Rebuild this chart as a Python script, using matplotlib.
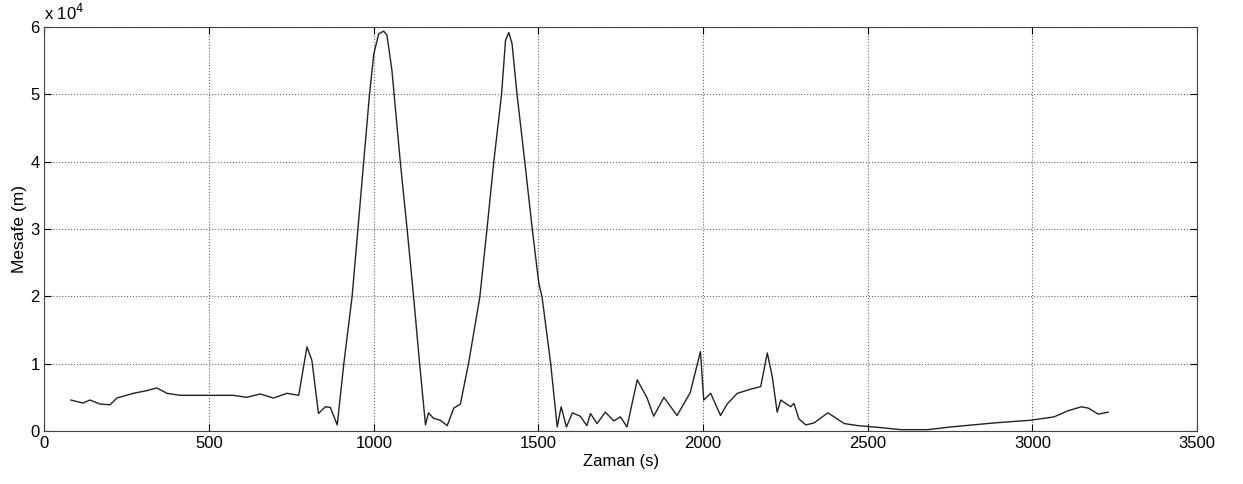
import matplotlib
matplotlib.use("Agg")
import matplotlib.pyplot as plt
from matplotlib.ticker import FuncFormatter

# time (s) and distance (m)
zaman = [80, 117, 138, 169, 199, 220, 270, 311, 341, 372, 412, 574, 614, 655, 695,
         737, 772, 797, 812, 832, 853, 868, 889, 909, 934, 952, 969, 987, 1000,
         1015, 1030, 1040, 1055, 1081, 1101, 1121, 1139, 1157, 1166, 1181, 1202,
         1223, 1243, 1263, 1288, 1322, 1344, 1364, 1388, 1400, 1410, 1420, 1435,
         1459, 1481, 1501, 1511, 1537, 1557, 1569, 1585, 1603, 1627, 1647, 1658,
         1678, 1703, 1729, 1749, 1769, 1800, 1830, 1850, 1881, 1921, 1961, 1992,
         2002, 2023, 2053, 2073, 2104, 2144, 2175, 2195, 2210, 2225, 2236, 2266,
         2276, 2291, 2312, 2337, 2379, 2429, 2470, 2540, 2601, 2682, 2752, 2884,
         2995, 3066, 3108, 3149, 3170, 3200, 3230]
mesafe = [4600, 4150, 4600, 4000, 3900, 4900, 5600, 6000, 6400, 5600, 5300, 5300,
          5000, 5500, 4900, 5600, 5300, 12500, 10500, 2600, 3600, 3500, 900, 10000,
          19900, 30100, 39800, 50000, 56000, 59000, 59400, 58800, 53600, 39700,
          30100, 19900, 10100, 900, 2700, 1900, 1600, 800, 3400, 4000, 10100,
          19900, 30100, 39800, 50000, 58000, 59200, 57500, 50000, 39800, 30100,
          22000, 19900, 10100, 600, 3600, 600, 2700, 2200, 800, 2600, 1100, 2800,
          1500, 2100, 600, 7600, 4900, 2200, 5000, 2300, 5700, 11800, 4600, 5600,
          2300, 4000, 5600, 6200, 6600, 11600, 8100, 2800, 4600, 3600, 4100, 1800,
          900, 1200, 2700, 1100, 800, 500, 200, 200, 600, 1200, 1600, 2100, 3000,
          3600, 3400, 2500, 2800]

plt.rcParams['font.family'] = ['Liberation Sans', 'DejaVu Sans']

fig = plt.figure(figsize=(12.43, 4.84), dpi=100)
ax = fig.add_axes([0.0358, 0.1095, 0.9272, 0.8345])

ax.plot(zaman, mesafe, color='#222222', linewidth=1.0)

ax.set_xlim(0, 3500)
ax.set_ylim(0, 60000)
ax.set_xticks(range(0, 3501, 500))
ax.set_yticks(range(0, 60001, 10000))
ax.yaxis.set_major_formatter(FuncFormatter(lambda v, p: f"{v/1e4:g}"))

ax.grid(True, linestyle=':', color='#666666', linewidth=0.8)
ax.tick_params(direction='in', top=True, right=True, labelsize=12, length=5)
for s in ax.spines.values():
    s.set_linewidth(0.8)
    s.set_color('#444444')

ax.text(0.0, 1.01, r'x 10$^{4}$', transform=ax.transAxes, fontsize=12,
        ha='left', va='bottom')
ax.set_xlabel('Zaman (s)', fontsize=12, labelpad=2)
ax.set_ylabel('Mesafe (m)', fontsize=12.5)
ax.yaxis.set_label_coords(-0.015, 0.5)

fig.savefig('out.png', dpi=100)
